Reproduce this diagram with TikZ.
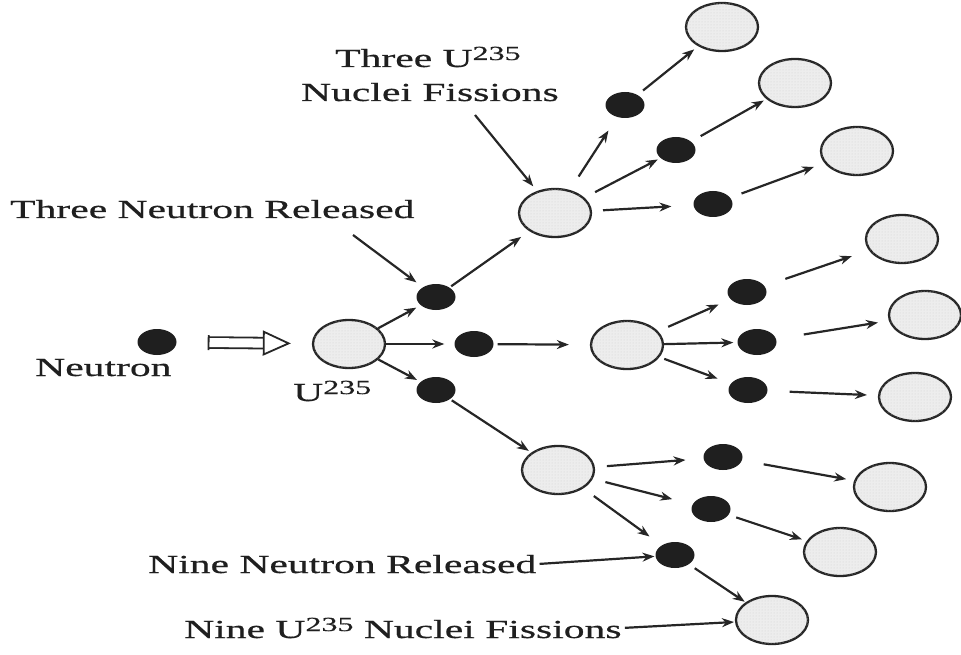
\documentclass[tikz,border=0pt]{standalone}
\usepackage{fontspec}
\usetikzlibrary{arrows.meta,shapes.geometric,patterns,calc}
\newfontfamily\lblfont[FakeStretch=1.6,FakeBold=0.6]{Liberation Serif}
\newcommand\isotope[1]{\raisebox{7pt}{\fontsize{20}{20}\selectfont #1}}
\tikzset{
  nuc/.style={ellipse, draw=black!85, line width=2.3pt, fill=black!7,
              postaction={pattern=dots, pattern color=black!18},
              minimum width=72pt, minimum height=48pt, inner sep=0pt},
  neu/.style={ellipse, draw=none, fill=black!88,
              minimum width=39pt, minimum height=26pt, inner sep=0pt},
  lbl/.style={font=\lblfont\fontsize{26}{30}\selectfont, text=black!88,
              inner sep=0pt, anchor=base west},
  link/.style={draw=black!85, line width=2.2pt,
               -{Stealth[length=12pt,width=9pt]}},
  gap/.style 2 args={shorten <=#1, shorten >=#2},
  hollow/.style={draw=black!85, line width=1.8pt, double=white,
                 double distance=9pt,
                 {Bar[width=15pt, line width=1.8pt]}-{Triangle[open, length=28pt, width=25pt, line width=1.8pt]}},
}
\begin{document}
\begin{tikzpicture}[x=1pt,y=-1pt]
\useasboundingbox (0,0) rectangle (961,655);

% incoming neutron and the first nucleus
\node[neu] (n0) at (157,342) {};
\node[nuc] (u0) at (349,344) {};

% three released neutrons
\node[neu] (a1) at (436,297) {};
\node[neu] (a2) at (474,344) {};
\node[neu] (a3) at (436,390) {};

% three second-generation nuclei
\node[nuc] (t) at (555,213) {};
\node[nuc] (m) at (627,345) {};
\node[nuc] (l) at (558,470) {};

% nine released neutrons
\node[neu] (b1) at (625,105) {};
\node[neu] (b2) at (676,150) {};
\node[neu] (b3) at (713,204) {};
\node[neu] (b4) at (747,292) {};
\node[neu] (b5) at (757,342) {};
\node[neu] (b6) at (748,390) {};
\node[neu] (b7) at (723,457) {};
\node[neu] (b8) at (711,509) {};
\node[neu] (b9) at (675,555) {};

% nine third-generation nuclei
\node[nuc] (c1) at (722,27) {};
\node[nuc] (c2) at (795,83) {};
\node[nuc] (c3) at (857,151) {};
\node[nuc] (c4) at (902,239) {};
\node[nuc] (c5) at (925,315) {};
\node[nuc] (c6) at (915,397) {};
\node[nuc] (c7) at (890,487) {};
\node[nuc] (c8) at (840,552) {};
\node[nuc] (c9) at (772,620) {};

% labels
\node[lbl] (lNeutron) at (35,376) {Neutron};
\node[lbl] (lU) at (293,401) {U\isotope{235}};
\node[lbl] (lThreeU) at (335,67) {Three U\isotope{235}};
\node[lbl, anchor=base east] (lFiss) at (559,101) {Nuclei Fissions};
\node[lbl] (lThreeN) at (10,218) {Three Neutron Released};
\node[lbl] (lNineN) at (148,573) {Nine Neutron Released};
\node[lbl] (lNineU) at (184,638) {Nine U\isotope{235} Nuclei Fissions};

\coordinate (tailThreeN) at (353,235);
\coordinate (tailFiss) at (475,115);

% neutron striking the nucleus
\draw[hollow, gap={31pt}{21pt}] (n0) -- (u0);

% first fission
\draw[link, gap={0pt}{5pt}]  (u0) -- (a1);
\draw[link, gap={0pt}{10pt}] (u0) -- (a2);
\draw[link, gap={0pt}{4pt}]  (u0) -- (a3);
\draw[link, gap={2pt}{10pt}] (a1) -- (t);
\draw[link, gap={4pt}{21pt}] (a2) -- (m);
\draw[link, gap={2pt}{3pt}]  (a3) -- (l);

% upper fission
\draw[link, gap={16pt}{16pt}] (t) -- (b1);
\draw[link, gap={12pt}{3pt}]  (t) -- (b2);
\draw[link, gap={11pt}{22pt}] (t) -- (b3);
\draw[link, gap={7pt}{5pt}]   (b1) -- (c1);
\draw[link, gap={11pt}{3pt}]  (b2) -- (c2);
\draw[link, gap={12pt}{11pt}] (b3) -- (c3);

% middle fission
\draw[link, gap={11pt}{13pt}] (m) -- (b4);
\draw[link, gap={0pt}{4pt}]   (m) -- (b5);
\draw[link, gap={5pt}{14pt}]  (m) -- (b6);
\draw[link, gap={22pt}{18pt}] (b4) -- (c4);
\draw[link, gap={28pt}{11pt}] (b5) -- (c5);
\draw[link, gap={22pt}{11pt}] (b6) -- (c6);

% lower fission
\draw[link, gap={12pt}{18pt}] (l) -- (b7);
\draw[link, gap={13pt}{21pt}] (l) -- (b8);
\draw[link, gap={13pt}{15pt}] (l) -- (b9);
\draw[link, gap={22pt}{8pt}]  (b7) -- (c7);
\draw[link, gap={8pt}{5pt}]   (b8) -- (c8);
\draw[link, gap={7pt}{1pt}]   (b9) -- (c9);

% label pointers
\draw[link, gap={0pt}{8pt}] (tailThreeN) -- (a1);
\draw[link, gap={0pt}{6pt}] (tailFiss) -- (t);
\draw[link, gap={3pt}{1pt}] (lNineN.east) -- (b9);
\draw[link, gap={3pt}{1pt}] (lNineU.east) -- (c9);
\end{tikzpicture}
\end{document}
